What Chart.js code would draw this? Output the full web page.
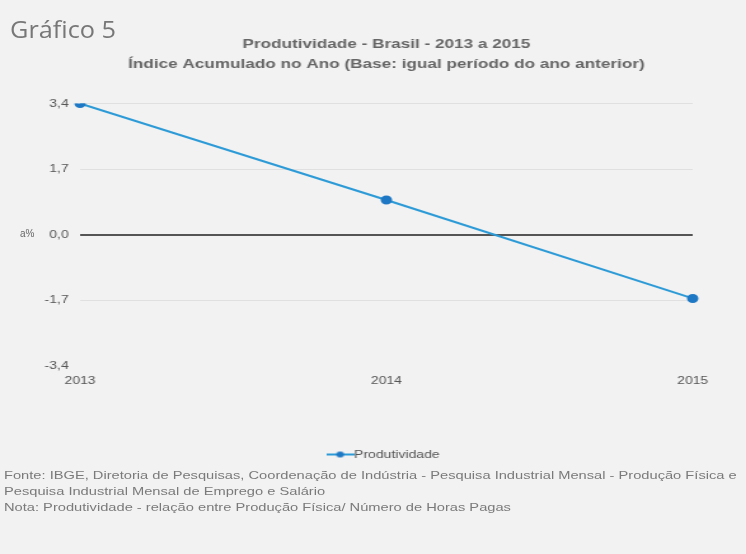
<!DOCTYPE html>
<html>
<head>
<meta charset="utf-8">
<script src="https://cdn.jsdelivr.net/npm/chart.js@4.4.1/dist/chart.umd.min.js"></script>
<style>
  html, body { margin: 0; padding: 0; background: #f2f2f2; }
  #wrap { position: relative; width: 746px; height: 554px; overflow: hidden; }
  /* the source picture is stretched sideways, so the chart is drawn narrower and scaled */
  #box { position: absolute; left: 0; top: 0; width: 587px; height: 470px; transform: scaleX(1.271); transform-origin: 0 0; }
  #num { position: absolute; left: 10px; top: 13px; font: 23px "Open Sans", sans-serif; color: #777; transform: scaleX(1.1); transform-origin: 0 0; }
  #unit { position: absolute; left: 20px; top: 228px; font: 10px "Liberation Sans", Arial, sans-serif; color: #666; }
  #notes { position: absolute; left: 4px; top: 467px; font: 11.5px "Liberation Sans", Arial, sans-serif; color: #7a7a7a; line-height: 16px; white-space: nowrap; transform: scaleX(1.275); transform-origin: 0 0; }
</style>
</head>
<body>
<div id="wrap">
  <div id="box"><canvas id="myChart"></canvas></div>
  <div id="num">Gráfico 5</div>
  <div id="unit">a%</div>
  <div id="notes">
    Fonte: IBGE, Diretoria de Pesquisas, Coordenação de Indústria - Pesquisa Industrial Mensal - Produção Física e<br>
    Pesquisa Industrial Mensal de Emprego e Salário<br>
    Nota: Produtividade - relação entre Produção Física/ Número de Horas Pagas
  </div>
</div>
<script>
// data
var anos = ['2013', '2014', '2015'];
var produtividade = [3.4, 0.9, -1.65];
var yTicks = [-3.4, -1.7, 0, 1.7, 3.4];

var lineColor = '#2b9ad6';
var dotColor = '#1f78c4';

// legend marker: line with a dot
var mark = document.createElement('canvas');
mark.width = 22; mark.height = 10;
var mc = mark.getContext('2d');
mc.strokeStyle = lineColor; mc.lineWidth = 2;
mc.beginPath(); mc.moveTo(0, 5); mc.lineTo(22, 5); mc.stroke();
mc.fillStyle = dotColor;
mc.beginPath(); mc.arc(11, 5, 3, 0, Math.PI * 2); mc.fill();

var ctx = document.getElementById('myChart').getContext('2d');
var chart = new Chart(ctx, {
  type: 'line',
  data: {
    labels: anos,
    datasets: [{
      label: 'Produtividade',
      data: produtividade,
      borderColor: lineColor,
      backgroundColor: dotColor,
      pointBackgroundColor: dotColor,
      pointBorderColor: dotColor,
      borderWidth: 2,
      pointRadius: 3.5,
      pointStyle: 'circle',
      tension: 0
    }]
  },
  options: {
    responsive: true,
    maintainAspectRatio: false,
    animation: false,
    layout: { padding: { left: 0, right: 42, top: 0, bottom: 0 } },
    plugins: {
      title: {
        display: true,
        fullSize: false,
        text: ['Produtividade - Brasil - 2013 a 2015', 'Índice Acumulado no Ano (Base: igual período do ano anterior)'],
        color: '#666',
        font: { family: 'Liberation Sans', size: 13.5, weight: 'bold', lineHeight: 1.5 },
        padding: { top: 34, bottom: 29 }
      },
      legend: {
        position: 'bottom',
        fullSize: false,
        labels: {
          usePointStyle: true,
          pointStyle: mark,
          color: '#555',
          font: { family: 'Liberation Sans', size: 11 },
          padding: 8
        }
      },
      tooltip: { enabled: false }
    },
    scales: {
      x: {
        offset: false,
        grid: { display: false, drawTicks: false },
        border: { display: false },
        ticks: { color: '#555', font: { family: 'Liberation Sans', size: 11 }, padding: 8, maxRotation: 0 },
        afterFit: function (s) { s.height = 75; }
      },
      y: {
        min: -3.4,
        max: 3.4,
        afterBuildTicks: function (s) { s.ticks = yTicks.map(function (v) { return { value: v }; }); },
        grid: {
          color: function (c) {
            if (c.tick && c.tick.value === 0) return '#555';
            if (c.tick && c.tick.value === -3.4) return 'rgba(0,0,0,0)';
            return '#e0e0e0';
          },
          lineWidth: function (c) { return c.tick && c.tick.value === 0 ? 2 : 1; },
          drawTicks: false
        },
        border: { display: false },
        ticks: {
          color: '#555',
          font: { family: 'Liberation Sans', size: 11 },
          padding: 9,
          callback: function (v) { return v.toFixed(1).replace('.', ','); }
        },
        afterFit: function (s) { s.width = 63; }
      }
    }
  }
});
</script>
</body>
</html>
